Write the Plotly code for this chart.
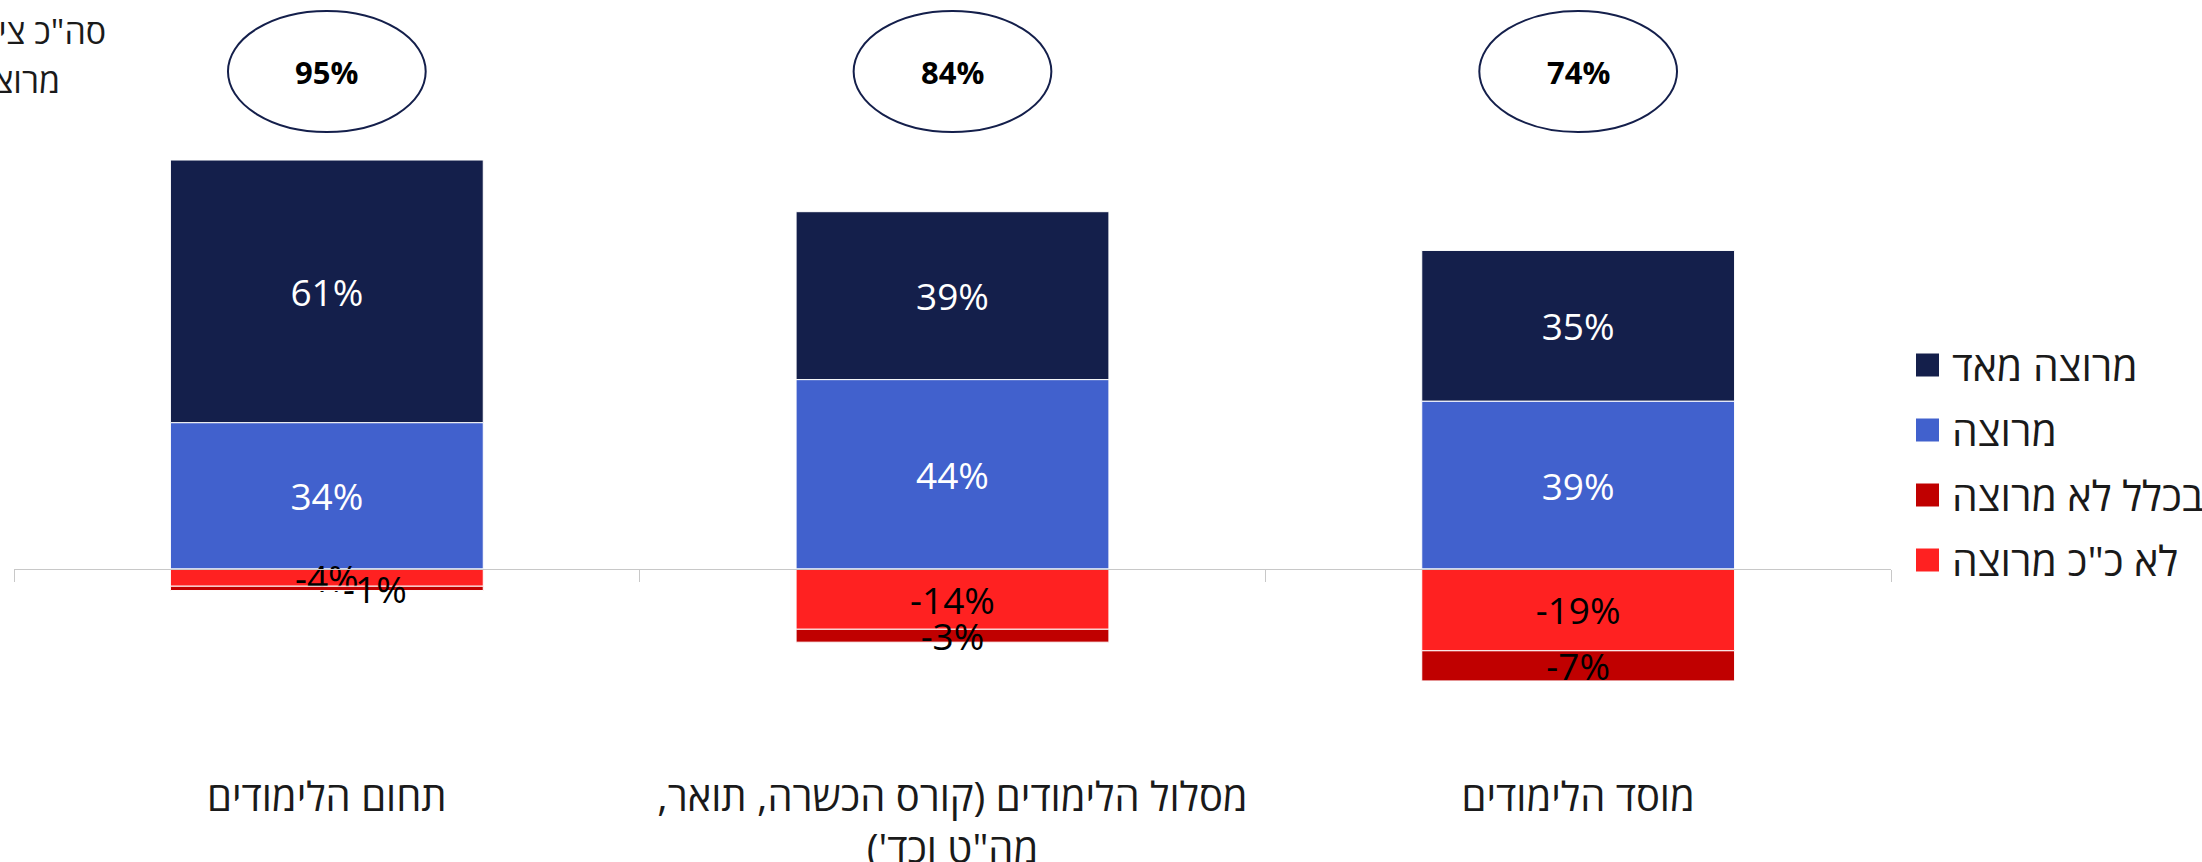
import plotly.graph_objects as go

# ---------------- data ----------------
categories = [
    "תחום הלימודים",
    "מסלול הלימודים (קורס הכשרה, תואר,\u200f<br>מה\"ט וכד')\u200f",
    "מוסד הלימודים",
]
very_satisfied = [61, 39, 35]      # מרוצה מאד
satisfied = [34, 44, 39]           # מרוצה
not_so_satisfied = [-4, -14, -19]  # לא כ"כ מרוצה
not_at_all = [-1, -3, -7]          # בכלל לא מרוצה
totals = [95, 84, 74]
corner_title_lines = ["סה\"כ ציינו", "מרוצים"]

names = {
    "very": "מרוצה מאד",
    "sat": "מרוצה",
    "notall": "בכלל לא מרוצה",
    "notso": "לא כ\"כ מרוצה",
}
colors = {
    "very": "#141F4B",
    "sat": "#4161CD",
    "notall": "#C00000",
    "notso": "#FF2121",
}

# ---------------- layout geometry ----------------
W, H = 2202, 862
L, R, T, B = 14, 311, 0, 92
PW, PH = W - L - R, H - T - B
ZERO_PX = 569
PX_PER_UNIT = 4.305
y_max = (ZERO_PX - T) / PX_PER_UNIT
y_min = -(T + PH - ZERO_PX) / PX_PER_UNIT


def px_x(p):
    return (p - L) / PW


def px_y(p):
    return 1 - (p - T) / PH


FONT = "Open Sans, DejaVu Sans, sans-serif"
x_idx = list(range(len(categories)))


def labels(vals):
    out = []
    for v in vals:
        s = f"{v}%"
        if abs(v) < 2:
            s = "\u00a0" * 10 + s
        out.append(s)
    return out


fig = go.Figure()

series = [
    ("sat", satisfied, "white"),
    ("very", very_satisfied, "white"),
    ("notso", not_so_satisfied, "black"),
    ("notall", not_at_all, "black"),
]
for key, vals, tcol in series:
    fig.add_trace(go.Bar(
        x=x_idx, y=vals, name=names[key],
        marker=dict(color=colors[key], line=dict(color="white", width=1)),
        text=labels(vals), textposition="inside", insidetextanchor="middle",
        constraintext="none", textangle=0,
        insidetextfont=dict(color=tcol, size=37, family=FONT),
        showlegend=False, hoverinfo="skip",
    ))

# invisible trace to host the zero-level category axis
fig.add_trace(go.Bar(x=[], y=[], xaxis="x2", showlegend=False, hoverinfo="skip"))

fig.update_layout(
    width=W, height=H,
    margin=dict(l=L, r=R, t=T, b=B, autoexpand=False),
    paper_bgcolor="white", plot_bgcolor="white",
    barmode="relative", bargap=0.5,
    font=dict(family=FONT, color="#1a1a1a"),
    xaxis=dict(
        range=[-0.5, 2.5], tickmode="array", tickvals=x_idx, ticktext=categories,
        showline=False, showgrid=False, zeroline=False, ticks="", automargin=False,
        tickfont=dict(size=40, color="#1a1a1a", family=FONT),
    ),
    xaxis2=dict(
        overlaying="x", anchor="free", position=px_y(ZERO_PX), automargin=False,
        range=[-0.5, 2.5], tickmode="array", tickvals=[-0.5, 0.5, 1.5, 2.5],
        showticklabels=False, showline=True, linecolor="#C8C8C8", linewidth=1,
        ticks="outside", ticklen=12, tickcolor="#C8C8C8", tickwidth=1,
        showgrid=False, zeroline=False,
    ),
    yaxis=dict(range=[y_min, y_max], visible=False, showgrid=False,
               zeroline=False, automargin=False),
    showlegend=False,
)

# totals in ellipses
for i, t in zip(x_idx, totals):
    fig.add_shape(type="circle", xref="x", yref="paper",
                  x0=i - 0.158, x1=i + 0.158, y0=px_y(132), y1=px_y(11),
                  line=dict(color="#141F4B", width=2), fillcolor="rgba(0,0,0,0)")
    fig.add_annotation(x=i, y=px_y(72), xref="x", yref="paper",
                       xanchor="center", yanchor="middle",
                       text=f"<b>{t}%</b>", showarrow=False,
                       font=dict(size=31, color="black", family=FONT))

# corner title (clipped at left edge, as in the original)
for line, right_px, cy in zip(corner_title_lines, [108, 62], [31, 80]):
    fig.add_annotation(x=px_x(right_px), y=px_y(cy), xref="paper", yref="paper",
                       xanchor="right", yanchor="middle", align="right",
                       text=line, showarrow=False,
                       font=dict(size=34, color="#1a1a1a", family=FONT))

# manual legend
legend_order = ["very", "sat", "notall", "notso"]
for k, key in enumerate(legend_order):
    cy = 365 + 65 * k
    fig.add_shape(type="rect", xref="paper", yref="paper",
                  x0=px_x(1916), x1=px_x(1939), y0=px_y(cy + 11.5), y1=px_y(cy - 11.5),
                  fillcolor=colors[key], line=dict(width=0))
    fig.add_annotation(x=px_x(1950), y=px_y(cy), xref="paper", yref="paper",
                       xanchor="left", yanchor="middle", text=names[key],
                       showarrow=False, font=dict(size=41, color="#1a1a1a", family=FONT))

fig.write_html("out.html", config={"displayModeBar": False},
               post_script="document.body.style.margin='0';")
